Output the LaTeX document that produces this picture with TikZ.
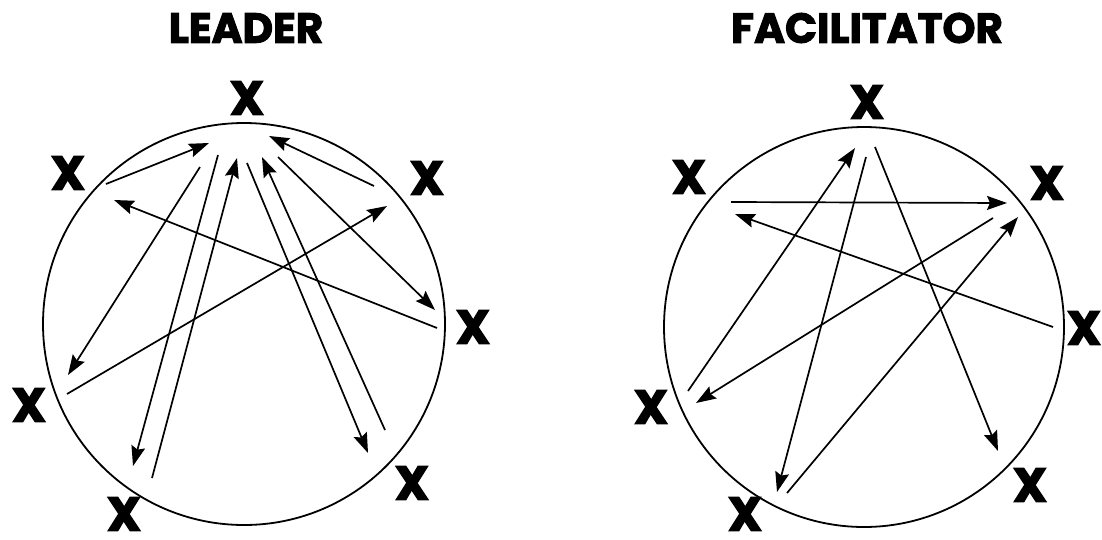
\documentclass[tikz,border=0pt]{standalone}
\usepackage{fontspec}
\newfontfamily\heavyX{Poppins}[FakeBold=3.5]
\newfontfamily\heavyT{Poppins}[FakeBold=2.5]
\usetikzlibrary{arrows.meta}
\begin{document}
\begin{tikzpicture}[x=1pt,y=-1pt,
  lbl/.style={font=\heavyX\bfseries\fontsize{47}{47}\selectfont, inner sep=0pt},
  ttl/.style={font=\heavyT\bfseries\fontsize{42}{42}\selectfont, inner sep=0pt},
  ring/.style={draw, line width=1.8pt},
  arr/.style={line width=1.7pt, -{Stealth[length=20pt,width=14pt,inset=3pt]}}]
\useasboundingbox (0,0) rectangle (1102,539);
% titles
\node[ttl] (tL) at (246,28) {LEADER};
\node[ttl] (tF) at (867,28) {FACILITATOR};
% ---------- LEADER ----------
\node[ring, circle, minimum size=402pt, inner sep=0pt] (cL) at (244,324) {};
\node[lbl] (L1) at (247,98) {X};
\node[lbl] (L2) at (68,173) {X};
\node[lbl] (L3) at (427,178) {X};
\node[lbl] (L4) at (473,327) {X};
\node[lbl] (L5) at (29,405) {X};
\node[lbl] (L6) at (124,514) {X};
\node[lbl] (L7) at (412,483) {X};
\coordinate (a1s) at (106,184); \coordinate (a1e) at (209,143);
\coordinate (a2s) at (200,167); \coordinate (a2e) at (68,375);
\coordinate (a3s) at (218,155); \coordinate (a3e) at (133,466);
\coordinate (a4s) at (152,478); \coordinate (a4e) at (237,158);
\coordinate (a5s) at (247,163); \coordinate (a5e) at (368,453);
\coordinate (a6s) at (385,430); \coordinate (a6e) at (262,157);
\coordinate (a7s) at (374,186); \coordinate (a7e) at (269,136);
\coordinate (a8s) at (278,157); \coordinate (a8e) at (435,310);
\coordinate (a9s) at (437,328); \coordinate (a9e) at (114,200);
\coordinate (a10s) at (67,394); \coordinate (a10e) at (387,206);
\foreach \i in {1,...,10} {\draw[arr] (a\i s) -- (a\i e);}
% ---------- FACILITATOR ----------
\node[ring, circle, minimum size=400pt, inner sep=0pt] (cF) at (864,327) {};
\node[lbl] (F1) at (867,102) {X};
\node[lbl] (F2) at (689,177) {X};
\node[lbl] (F3) at (1047,183) {X};
\node[lbl] (F4) at (1084,328) {X};
\node[lbl] (F5) at (651,407) {X};
\node[lbl] (F6) at (745,514) {X};
\node[lbl] (F7) at (1030,485) {X};
\coordinate (b1s) at (731,202); \coordinate (b1e) at (1007,203);
\coordinate (b2s) at (1053,327); \coordinate (b2e) at (735,214);
\coordinate (b3s) at (688,391); \coordinate (b3e) at (855,148);
\coordinate (b4s) at (866,157); \coordinate (b4e) at (777,492);
\coordinate (b5s) at (875,147); \coordinate (b5e) at (998,451);
\coordinate (b6s) at (993,218); \coordinate (b6e) at (696,403);
\coordinate (b7s) at (787,493); \coordinate (b7e) at (1018,217);
\foreach \i in {1,...,7} {\draw[arr] (b\i s) -- (b\i e);}
\end{tikzpicture}
\end{document}
